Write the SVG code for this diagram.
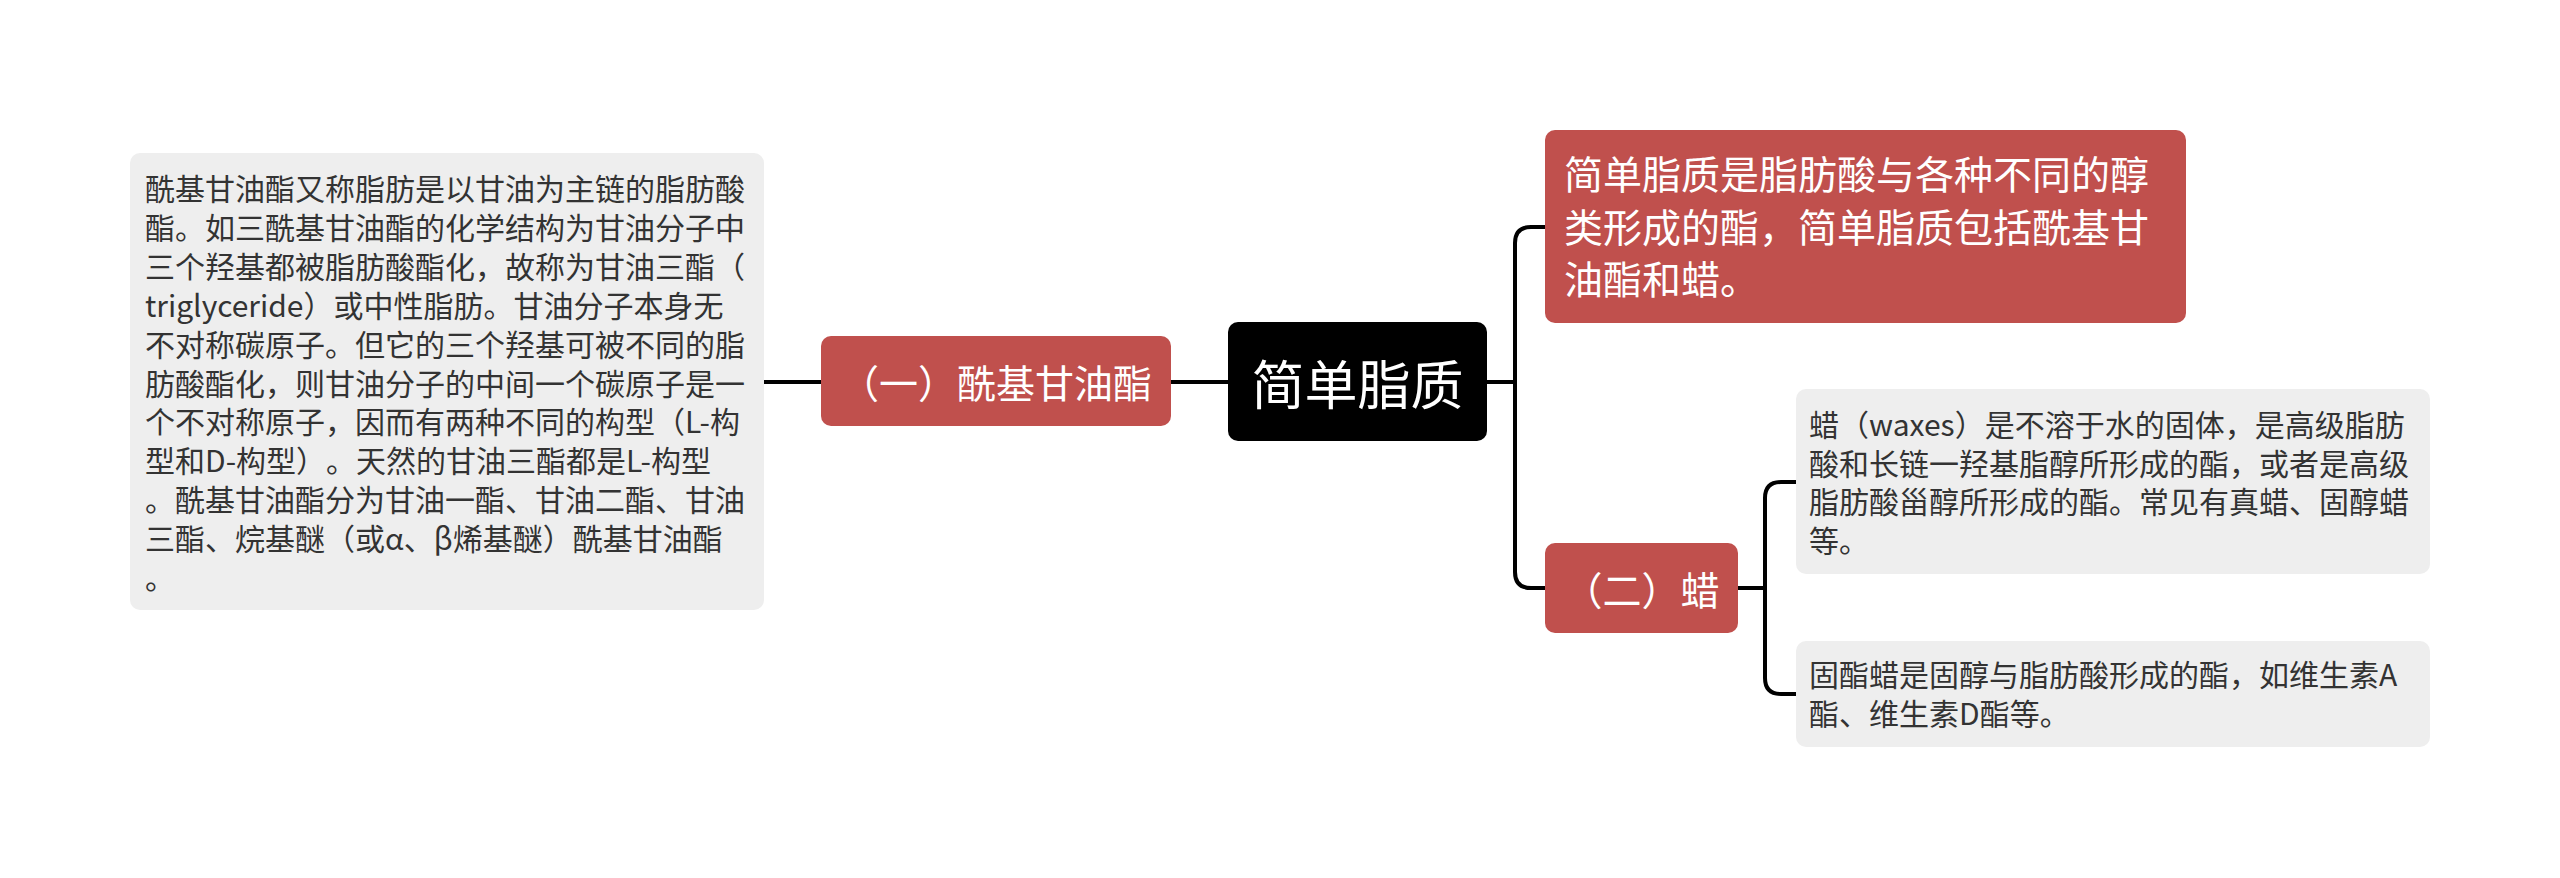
<svg xmlns="http://www.w3.org/2000/svg" width="2560" height="878" viewBox="0 0 2560 878">
<style>
text{font-family:"Noto Sans CJK SC","Noto Sans",sans-serif;text-spacing-trim:space-all}
.red{fill:#c0504d}
.gray{fill:#eeeeee}
.rt{fill:#ffffff;font-size:39px}
.gt{fill:#333333;font-size:30px}
.ct{fill:#ffffff;font-size:53px}
.conn{fill:none;stroke:#000000;stroke-width:4}
</style>
<rect width="2560" height="878" fill="#ffffff"/>
<g id="connectors">
<path class="conn" d="M764 382 H821"/>
<path class="conn" d="M1171 382 H1228"/>
<path class="conn" d="M1487 382 H1515"/>
<path class="conn" d="M1545 227 H1531 Q1515 227 1515 243 V572 Q1515 588 1531 588 H1545"/>
<path class="conn" d="M1738 588 H1765"/>
<path class="conn" d="M1796 482 H1781 Q1765 482 1765 498 V678 Q1765 694 1781 694 H1796"/>
</g>
<g id="root">
<rect x="1228" y="322" width="259" height="119" rx="10" fill="#000000"/>
<text class="ct" x="1357.5" y="382" text-anchor="middle" dominant-baseline="central">简单脂质</text>
</g>
<g id="node-acyl">
<rect class="red" x="821" y="336" width="350" height="90" rx="10"/>
<text class="rt" x="996" y="381" text-anchor="middle" dominant-baseline="central">（一）酰基甘油酯</text>
</g>
<g id="node-acyl-desc">
<rect class="gray" x="130" y="153" width="634" height="457" rx="10"/>
<text class="gt">
<tspan x="145" y="200">酰基甘油酯又称脂肪是以甘油为主链的脂肪酸</tspan>
<tspan x="145" y="238.9">酯。如三酰基甘油酯的化学结构为甘油分子中</tspan>
<tspan x="145" y="277.8">三个羟基都被脂肪酸酯化，故称为甘油三酯（</tspan>
<tspan x="145" y="316.7">triglyceride）或中性脂肪。甘油分子本身无</tspan>
<tspan x="145" y="355.6">不对称碳原子。但它的三个羟基可被不同的脂</tspan>
<tspan x="145" y="394.5">肪酸酯化，则甘油分子的中间一个碳原子是一</tspan>
<tspan x="145" y="433.4">个不对称原子，因而有两种不同的构型（L-构</tspan>
<tspan x="145" y="472.3">型和D-构型）。天然的甘油三酯都是L-构型</tspan>
<tspan x="145" y="511.2">。酰基甘油酯分为甘油一酯、甘油二酯、甘油</tspan>
<tspan x="145" y="550.1">三酯、烷基醚（或α、β烯基醚）酰基甘油酯</tspan>
<tspan x="145" y="589">。</tspan>
</text>
</g>
<g id="node-simple-desc">
<rect class="red" x="1545" y="130" width="641" height="193" rx="10"/>
<text class="rt">
<tspan x="1564" y="189">简单脂质是脂肪酸与各种不同的醇</tspan>
<tspan x="1564" y="241.5">类形成的酯，简单脂质包括酰基甘</tspan>
<tspan x="1564" y="294">油酯和蜡。</tspan>
</text>
</g>
<g id="node-wax">
<rect class="red" x="1545" y="543" width="193" height="90" rx="10"/>
<text class="rt" x="1641.5" y="588" text-anchor="middle" dominant-baseline="central">（二）蜡</text>
</g>
<g id="node-wax-desc">
<rect class="gray" x="1796" y="389" width="634" height="185" rx="10"/>
<text class="gt">
<tspan x="1809" y="436">蜡（waxes）是不溶于水的固体，是高级脂肪</tspan>
<tspan x="1809" y="474.6">酸和长链一羟基脂醇所形成的酯，或者是高级</tspan>
<tspan x="1809" y="513.2">脂肪酸甾醇所形成的酯。常见有真蜡、固醇蜡</tspan>
<tspan x="1809" y="551.8">等。</tspan>
</text>
</g>
<g id="node-sterol-wax">
<rect class="gray" x="1796" y="641" width="634" height="106" rx="10"/>
<text class="gt">
<tspan x="1809" y="686">固酯蜡是固醇与脂肪酸形成的酯，如维生素A</tspan>
<tspan x="1809" y="725">酯、维生素D酯等。</tspan>
</text>
</g>
</svg>
